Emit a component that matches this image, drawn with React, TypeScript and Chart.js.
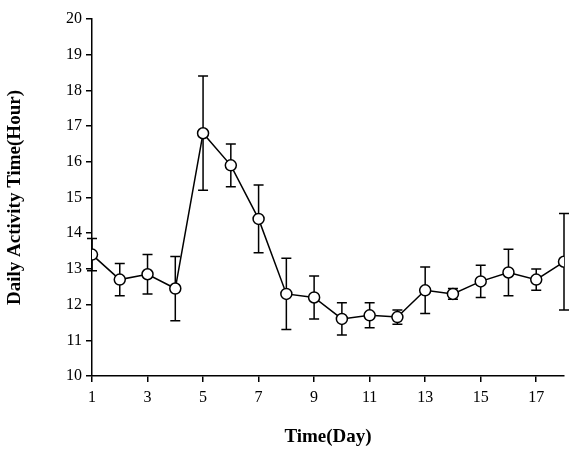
import { useEffect, useRef } from 'react';
import { Chart, registerables } from 'chart.js';

Chart.register(...registerables);

const days = [1, 2, 3, 4, 5, 6, 7, 8, 9, 10, 11, 12, 13, 14, 15, 16, 17, 18];
const means = [13.4, 12.7, 12.85, 12.45, 16.8, 15.9, 14.4, 12.3, 12.2, 11.6, 11.7, 11.65, 12.4, 12.3, 12.65, 12.9, 12.7, 13.2];
const errors = [0.45, 0.45, 0.55, 0.9, 1.6, 0.6, 0.95, 1.0, 0.6, 0.45, 0.35, 0.2, 0.65, 0.15, 0.45, 0.65, 0.3, 1.35];
const xTicks = [1, 3, 5, 7, 9, 11, 13, 15, 17];

const font = { family: '"Liberation Serif", "Times New Roman", serif', size: 16 };

const errorBars = {
  id: 'errorBars',
  beforeDatasetsDraw(chart: Chart) {
    const { ctx, scales } = chart;
    const x = scales.x;
    const y = scales.y;
    ctx.save();
    ctx.strokeStyle = '#000';
    ctx.lineWidth = 1.5;
    days.forEach((d, i) => {
      const px = x.getPixelForValue(d);
      const top = y.getPixelForValue(means[i] + errors[i]);
      const bot = y.getPixelForValue(means[i] - errors[i]);
      ctx.beginPath();
      ctx.moveTo(px, top);
      ctx.lineTo(px, bot);
      ctx.moveTo(px - 5, top);
      ctx.lineTo(px + 5, top);
      ctx.moveTo(px - 5, bot);
      ctx.lineTo(px + 5, bot);
      ctx.stroke();
    });
    ctx.restore();
  },
};

export default function App() {
  const canvasRef = useRef<HTMLCanvasElement>(null);

  useEffect(() => {
    if (!canvasRef.current) return;
    const chart = new Chart(canvasRef.current, {
      type: 'line',
      data: {
        datasets: [
          {
            data: days.map((d, i) => ({ x: d, y: means[i] })),
            borderColor: '#000',
            borderWidth: 1.5,
            pointRadius: 5.5,
            pointBackgroundColor: '#fff',
            pointBorderColor: '#000',
            pointBorderWidth: 1.5,
            tension: 0,
          },
        ],
      },
      options: {
        animation: false,
        responsive: false,
        layout: { padding: { top: 19, right: 3, bottom: 16 } },
        plugins: { legend: { display: false }, tooltip: { enabled: false } },
        scales: {
          x: {
            type: 'linear',
            min: 1,
            max: 18,
            afterBuildTicks: (axis) => {
              axis.ticks = xTicks.map((v) => ({ value: v }));
            },
            afterFit: (axis) => {
              axis.height = 72;
            },
            grid: { display: true, drawOnChartArea: false, drawTicks: true, tickLength: 6, color: '#000', lineWidth: 1.5 },
            border: { color: '#000', width: 1.5 },
            ticks: { color: '#000', font, padding: 6, maxRotation: 0 },
            title: {
              display: true,
              text: 'Time(Day)',
              color: '#000',
              font: { ...font, size: 19, weight: 'bold' },
              padding: { top: 16, bottom: 0 },
            },
          },
          y: {
            min: 10,
            max: 20,
            afterFit: (axis) => {
              axis.width = 92;
            },
            grid: { display: true, drawOnChartArea: false, drawTicks: true, tickLength: 6, color: '#000', lineWidth: 1.5 },
            border: { color: '#000', width: 1.5 },
            ticks: { color: '#000', font, stepSize: 1, padding: 4 },
            title: {
              display: true,
              text: 'Daily Activity Time(Hour)',
              color: '#000',
              font: { ...font, size: 19, weight: 'bold' },
              padding: { bottom: 8 },
            },
          },
        },
      },
      plugins: [errorBars],
    });
    return () => chart.destroy();
  }, []);

  return (
    <div style={{ position: 'fixed', left: 0, top: 0, width: 571, height: 464, background: '#fff' }}>
      <canvas ref={canvasRef} width={571} height={464} />
    </div>
  );
}
